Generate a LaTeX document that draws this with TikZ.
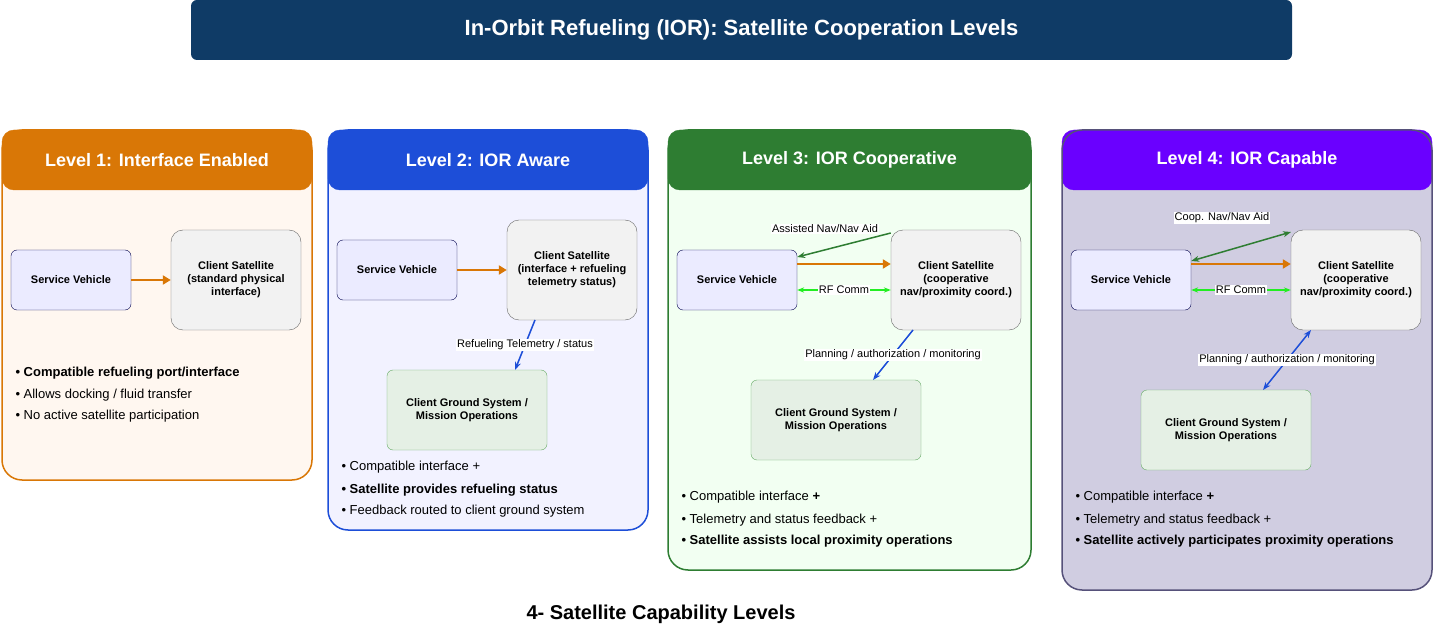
\documentclass[tikz,border=0pt]{standalone}
\usepackage{fontspec}
\setmainfont{Liberation Sans}
\usetikzlibrary{arrows.meta}
\definecolor{navy}{HTML}{0F3B66}
\definecolor{org}{HTML}{D97706}
\definecolor{blu}{HTML}{1D4ED8}
\definecolor{grn}{HTML}{2E7D32}
\definecolor{pur}{HTML}{6A00FF}
\definecolor{lime}{HTML}{22EE22}
\definecolor{p4fill}{RGB}{208,205,225}
\definecolor{p4line}{RGB}{86,81,122}
\begin{document}
\begin{tikzpicture}[x=1pt,y=-1pt,
 panel/.style={draw=#1,line width=1.5pt,rounded corners=20pt},
 head/.style={fill=#1,draw=#1,rounded corners=12pt,text=white,font=\fontsize{18}{20}\selectfont\bfseries},
 sv/.style={draw=black!70!blue,fill=blue!8,rounded corners=6pt,font=\fontsize{11}{13}\selectfont\bfseries,align=center,minimum width=120pt,minimum height=60pt},
 cs/.style={draw=black!60,fill=black!5,rounded corners=12pt,font=\fontsize{11}{13}\selectfont\bfseries,align=center,minimum width=130pt,minimum height=100pt},
 gs/.style={draw=green!45!black!60,fill=green!40!black!10!white,rounded corners=6pt,font=\fontsize{11}{13}\selectfont\bfseries,align=center,minimum height=80pt},
 bul/.style={anchor=west,font=\fontsize{13}{15}\selectfont},
 lab/.style={fill=white,inner sep=1pt,font=\fontsize{11}{13}\selectfont},
 oarr/.style={draw=org,line width=2.5pt,-{Triangle[length=8pt,width=9pt]}},
 rf/.style={draw=lime,line width=1.5pt,{Stealth[length=7pt]}-{Stealth[length=7pt]}},
 barr/.style={draw=blu,line width=1.5pt,-{Stealth[length=8pt]}},
]
\useasboundingbox (0,0) rectangle (1441,631);
\node[fill=navy,rounded corners=6pt,minimum width=1101pt,minimum height=60pt,text=white,font=\fontsize{22}{24}\selectfont\bfseries] (title) at (741.5,30) {In-Orbit Refueling (IOR): Satellite Cooperation Levels};

% Level 1
\fill[orange!6,rounded corners=20pt] (2,130) rectangle (312,480);
\node[head=org,minimum width=310pt,minimum height=60pt] (h1) at (157,160) {Level 1: Interface Enabled};
\draw[panel=org] (2,130) rectangle (312,480);
\node[sv] (sv1) at (71,280) {Service Vehicle};
\node[cs] (cs1) at (236,280) {Client Satellite\\(standard physical\\interface)};
\draw[oarr] (sv1) -- (cs1);
\node[bul,font=\fontsize{13}{15}\selectfont\bfseries] (b11) at (12,373) {• Compatible refueling port/interface};
\node[bul] (b12) at (12,395) {• Allows docking / fluid transfer};
\node[bul] (b13) at (12,416) {• No active satellite participation};

% Level 2
\fill[blue!5,rounded corners=20pt] (328,130) rectangle (648,530);
\node[head=blu,minimum width=320pt,minimum height=60pt] (h2) at (488,160) {Level 2: IOR Aware};
\draw[panel=blu] (328,130) rectangle (648,530);
\node[sv] (sv2) at (397,270) {Service Vehicle};
\node[cs] (cs2) at (572,270) {Client Satellite\\(interface + refueling\\telemetry status)};
\node[gs,minimum width=160pt] (gs2) at (467,410) {Client Ground System /\\Mission Operations};
\draw[oarr] (sv2) -- (cs2);
\draw[barr] (535,320) -- (515,370) node[pos=0.5,lab] (l2) {Refueling Telemetry / status};
\node[bul] (b21) at (338,467) {• Compatible interface +};
\node[bul,font=\fontsize{13}{15}\selectfont\bfseries] (b22) at (338,490) {• Satellite provides refueling status};
\node[bul] (b23) at (338,511) {• Feedback routed to client ground system};

% Level 3
\fill[green!5,rounded corners=20pt] (668,130) rectangle (1031,570);
\node[head=grn,minimum width=363pt,minimum height=60pt] (h3) at (849.5,160) {Level 3: IOR Cooperative};
\draw[panel=grn] (668,130) rectangle (1031,570);
\node[sv] (sv3) at (737,280) {Service Vehicle};
\node[cs] (cs3) at (956,280) {Client Satellite\\(cooperative\\nav/proximity coord.)};
\node[gs,minimum width=170pt] (gs3) at (836,420) {Client Ground System /\\Mission Operations};
\draw[oarr] (sv3.east |- 0,264) -- (cs3.west |- 0,264);
\draw[rf] (sv3.east |- 0,290) -- (cs3.west |- 0,290) node[midway,lab] (rf3) {RF Comm};
\draw[draw=grn,line width=1.5pt,-{Stealth[length=8pt]}] (cs3.west |- 0,233) -- (sv3.east |- 0,257);
\node[lab] (n3) at (825,229) {Assisted Nav/Nav Aid};
\draw[barr] (913,330) -- (873,380) node[pos=0.5,lab] (l3) {Planning / authorization / monitoring};
\node[bul] (b31) at (678,497) {• Compatible interface \textbf{+}};
\node[bul] (b32) at (678,520) {• Telemetry and status feedback +};
\node[bul,font=\fontsize{13}{15}\selectfont\bfseries] (b33) at (678,541) {• Satellite assists local proximity operations};

% Level 4
\fill[p4fill,rounded corners=20pt] (1062,130) rectangle (1432,590);
\node[head=pur,minimum width=370pt,minimum height=60pt] (h4) at (1247,160) {Level 4: IOR Capable};
\draw[panel=p4line] (1062,130) rectangle (1432,590);
\node[sv] (sv4) at (1131,280) {Service Vehicle};
\node[cs] (cs4) at (1356,280) {Client Satellite\\(cooperative\\nav/proximity coord.)};
\node[gs,minimum width=170pt] (gs4) at (1226,430) {Client Ground System /\\Mission Operations};
\draw[oarr] (sv4.east |- 0,264) -- (cs4.west |- 0,264);
\draw[rf] (sv4.east |- 0,290) -- (cs4.west |- 0,290) node[midway,lab] (rf4) {RF Comm};
\draw[draw=grn,line width=1.5pt,{Stealth[length=8pt]}-{Stealth[length=8pt]}] (sv4.east |- 0,261) -- (1291,232);
\node[lab] (n4) at (1222,218) {Coop. Nav/Nav Aid};
\draw[draw=blu,line width=1.5pt,{Stealth[length=8pt]}-{Stealth[length=8pt]}] (1311,330) -- (1263,390) node[pos=0.5,lab] (l4) {Planning / authorization / monitoring};
\node[bul] (b41) at (1072,497) {• Compatible interface \textbf{+}};
\node[bul] (b42) at (1072,520) {• Telemetry and status feedback +};
\node[bul,font=\fontsize{13}{15}\selectfont\bfseries] (b43) at (1072,541) {• Satellite actively participates proximity operations};

\node[font=\fontsize{20}{22}\selectfont\bfseries] (foot) at (661,614) {4- Satellite Capability Levels};
\end{tikzpicture}
\end{document}
